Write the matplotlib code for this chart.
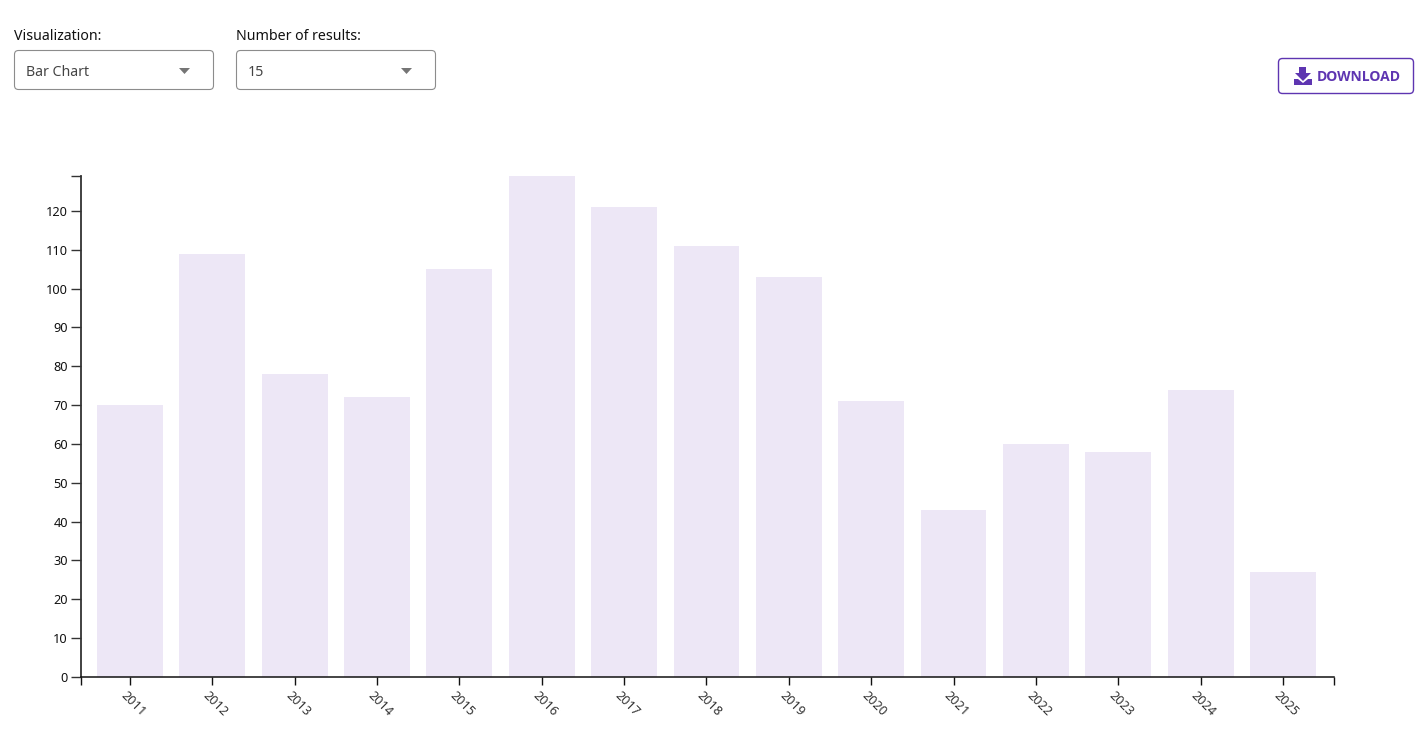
import matplotlib
matplotlib.use('Agg')
import matplotlib.pyplot as plt
from matplotlib.patches import FancyBboxPatch, Polygon
from matplotlib.transforms import ScaledTranslation

years = ['2011', '2012', '2013', '2014', '2015', '2016', '2017', '2018',
         '2019', '2020', '2021', '2022', '2023', '2024', '2025']
counts = [70, 109, 78, 72, 105, 129, 121, 111, 103, 71, 43, 60, 58, 74, 27]
y_ticks = [0, 10, 20, 30, 40, 50, 60, 70, 80, 90, 100, 110, 120]
y_top = 129

W, H = 1423, 752
PURPLE = '#5e35b1'
AXIS = '#333333'
plt.rcParams['font.family'] = ['Noto Sans', 'DejaVu Sans']

fig = plt.figure(figsize=(W / 100, H / 100), dpi=100)

# chart, position in pixels of the reference
left, right, top, bottom = 81, 1334, 176, 677
ax = fig.add_axes([left / W, 1 - bottom / H, (right - left) / W, (bottom - top) / H])
ax.bar(range(len(years)), counts, width=0.8, color='#ede7f6')
ax.set_xlim(-0.595, 14.62)
ax.set_ylim(0, y_top)

for s in ['top', 'right']:
    ax.spines[s].set_visible(False)
ax.spines['left'].set_linewidth(1.3)
ax.spines['left'].set_color(AXIS)
ax.spines['bottom'].set_linewidth(1.1)
ax.spines['bottom'].set_color('#111111')

ax.set_yticks(y_ticks + [y_top])
ax.set_yticklabels([str(v) for v in y_ticks] + [''], fontsize=9.2, color='#111111')
ax.tick_params(axis='y', length=7, width=1, color=AXIS, pad=2.5)

ax.set_xticks(range(len(years)))
ax.set_xticklabels(years, fontsize=9.2, rotation=-45, ha='center', color='#333333')
ax.tick_params(axis='x', length=6, width=1, color='#111111', pad=3)
shift = ScaledTranslation(3 / 100, 1 / 100, fig.dpi_scale_trans)
for lab in ax.get_xticklabels():
    lab.set_transform(lab.get_transform() + shift)
# end caps of the x axis
ax.set_xticks(list(ax.get_xlim()), minor=True)
ax.tick_params(axis='x', which='minor', length=6, width=1, color='#111111')

# controls above the chart, drawn in pixel coords
ui = fig.add_axes([0, 0, 1, 1], zorder=5)
ui.set_xlim(0, W)
ui.set_ylim(H, 0)
ui.axis('off')


def dropdown(x, label, value):
    ui.text(x, 37, label, fontsize=10.2, color='#111111', va='center', ha='left')
    ui.add_patch(FancyBboxPatch((x + 0.5, 50.5), 199, 39,
                                boxstyle='round,pad=0,rounding_size=4',
                                fc='white', ec='#8c8c8c', lw=0.8))
    ui.text(x + 12, 72, value, fontsize=10.2, color='#444444', va='center', ha='left')
    ui.add_patch(Polygon([(x + 165, 68), (x + 176, 68), (x + 170.5, 74)],
                         closed=True, fc='#757575', ec='none'))


dropdown(14, 'Visualization:', 'Bar Chart')
dropdown(236, 'Number of results:', '15')

# download button
ui.add_patch(FancyBboxPatch((1278.5, 58.5), 135, 35,
                            boxstyle='round,pad=0,rounding_size=4',
                            fc='white', ec=PURPLE, lw=1))
ui.text(1317, 77, 'DOWNLOAD', fontsize=10, fontweight='bold', family='Open Sans',
        color=PURPLE, va='center', ha='left', stretch='condensed')
ui.add_patch(Polygon([(1299, 67), (1306, 67), (1306, 73), (1311, 73), (1303, 81),
                      (1295, 73), (1299, 73)], closed=True, fc=PURPLE, ec='none'))
ui.add_patch(Polygon([(1294, 79), (1298, 79), (1303, 83), (1308, 79), (1312, 79),
                      (1312, 85), (1294, 85)], closed=True, fc=PURPLE, ec='none'))

fig.savefig('out.png', dpi=100)
